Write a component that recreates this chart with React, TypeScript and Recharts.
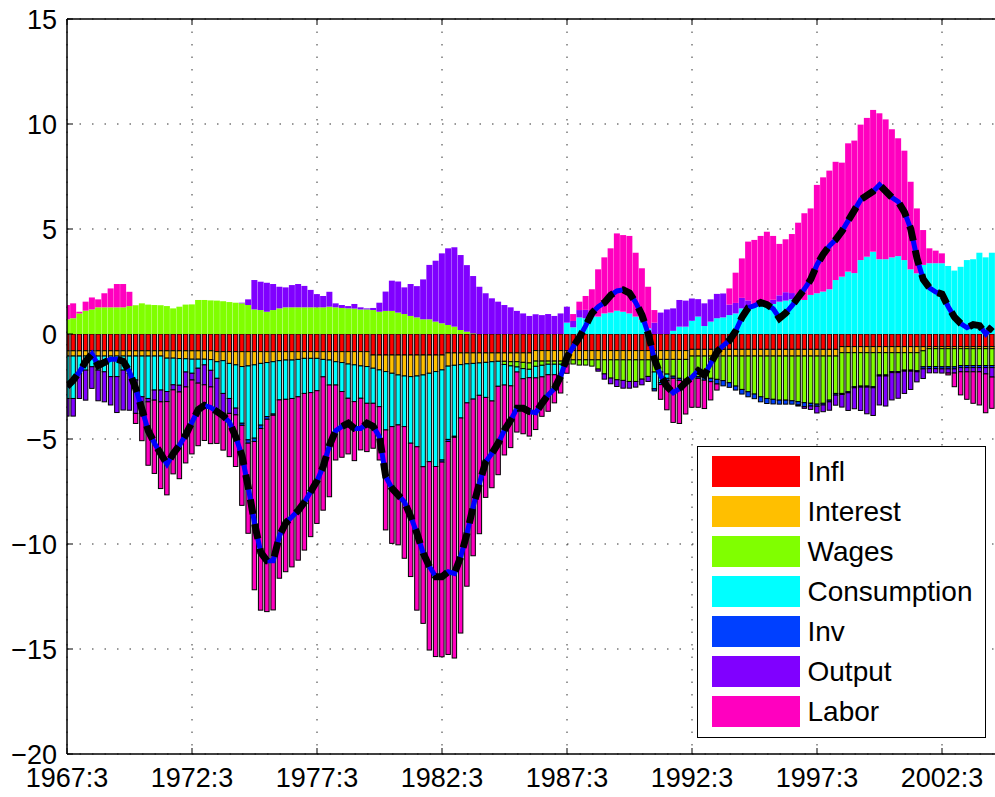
import { Bar, CartesianGrid, ComposedChart, Line, ReferenceLine, XAxis, YAxis } from "recharts";

const FONT = '"Liberation Sans", Arial, Helvetica, sans-serif';
const PLOT_TOP = 19;
const PLOT_LEFT = 67;
const PLOT_BOTTOM = 754;

// quarter index 0 = 1967:3
const xTickIdx = [0, 20, 40, 60, 80, 100, 120, 140];
const xTickLabels = ["1967:3", "1972:3", "1977:3", "1982:3", "1987:3", "1992:3", "1997:3", "2002:3"];
const yTicks = [-20, -15, -10, -5, 0, 5, 10, 15];

const infl = [
  -0.8, -0.8, -0.8, -0.8, -0.8, -0.8, -0.8, -0.8, -0.8, -0.8, -0.8, -0.8,
  -0.8, -0.8, -0.8, -0.8, -0.8, -0.8, -0.8, -0.8, -0.8, -0.8, -0.8, -0.8,
  -0.84, -0.84, -0.84, -0.84, -0.84, -0.84, -0.84, -0.84, -0.84, -0.84, -0.84, -0.84, -0.84,
  -0.84, -0.84, -0.84, -0.84, -0.84, -0.84, -0.84, -0.84, -0.84, -0.84, -0.84, -0.84,
  -1.0, -1.0, -1.0, -1.0, -1.0, -1.0, -1.0, -1.0, -1.0, -1.0, -1.0, -1.0,
  -0.9, -0.9, -0.9, -0.9, -0.9, -0.9, -0.9, -0.9, -0.9, -0.9, -0.9, -0.9, -0.9, -0.9,
  -0.79, -0.79, -0.79, -0.79, -0.79, -0.79, -0.79, -0.79, -0.79, -0.79, -0.79, -0.79, -0.79,
  -0.79, -0.79, -0.79, -0.79, -0.79, -0.79, -0.79, -0.79, -0.79, -0.79, -0.79, -0.79,
  -0.73, -0.73, -0.73, -0.73, -0.73, -0.73, -0.73, -0.73, -0.73, -0.73, -0.73, -0.73,
  -0.73, -0.73, -0.73, -0.73, -0.73, -0.73, -0.73, -0.73, -0.73, -0.73, -0.73, -0.73,
  -0.6, -0.6, -0.6, -0.6, -0.6, -0.6, -0.6, -0.6, -0.6, -0.6, -0.6, -0.6, -0.6,
  -0.6, -0.6, -0.6, -0.6, -0.6, -0.6, -0.6, -0.6, -0.6, -0.6, -0.6, -0.6,
];

const interest = [
  -0.25, -0.25, -0.25, -0.25, -0.25, -0.25, -0.25, -0.25, -0.25, -0.25, -0.25, -0.25,
  -0.25, -0.25, -0.25, -0.25, -0.35, -0.35, -0.37, -0.38, -0.4, -0.4, -0.4, -0.42,
  -0.48, -0.43, -0.56, -0.63, -0.71, -0.68, -0.63, -0.56, -0.52, -0.48, -0.43, -0.4, -0.4,
  -0.37, -0.32, -0.32, -0.32, -0.37, -0.4, -0.48, -0.52, -0.59, -0.63, -0.68, -0.71,
  -0.63, -0.71, -0.79, -0.87, -0.95, -1.0, -1.03, -1.0, -0.95, -0.87, -0.79, -0.71, -0.63,
  -0.59, -0.56, -0.52, -0.5, -0.48, -0.45, -0.42, -0.4, -0.4, -0.42, -0.42, -0.45, -0.48,
  -0.5, -0.5, -0.5, -0.5, -0.5, -0.44, -0.44, -0.44, -0.44, -0.44, -0.44, -0.44, -0.44,
  -0.44, -0.44, -0.44, -0.44, -0.44, -0.44, -0.42, -0.42, -0.42, -0.42, -0.42, -0.42,
  -0.32, -0.32, -0.32, -0.32, -0.32, -0.32, -0.32, -0.32, -0.32, -0.32, -0.32, -0.32,
  -0.32, -0.32, -0.32, -0.32, -0.32, -0.32, -0.32, -0.32, -0.32, -0.32, -0.32, -0.32,
  -0.29, -0.29, -0.29, -0.29, -0.29, -0.29, -0.29, -0.29, -0.29, -0.29, -0.29, -0.29, -0.29,
  -0.2, -0.1, -0.1, -0.1, -0.1, -0.1, -0.1, -0.1, -0.1, -0.1, -0.1, -0.1,
];

const wages = [
  0.7, 0.75, 0.98, 1.11, 1.17, 1.27, 1.27, 1.27, 1.27, 1.27, 1.33, 1.37,
  1.46, 1.4, 1.38, 1.37, 1.33, 1.22, 1.3, 1.4, 1.41, 1.62, 1.62, 1.6,
  1.59, 1.56, 1.52, 1.49, 1.46, 1.38, 1.17, 1.14, 1.06, 1.14, 1.22, 1.27, 1.27,
  1.27, 1.27, 1.27, 1.27, 1.27, 1.3, 1.27, 1.24, 1.22, 1.21, 1.17, 1.17,
  1.14, 1.06, 1.1, 1.1, 1.02, 0.95, 0.86, 0.79, 0.7, 0.7, 0.59, 0.51, 0.43,
  0.35, 0.19, 0.11, 0.03, 0, 0, 0, 0, -0.15, -0.2, -0.25, -0.3, -0.3,
  -0.25, -0.2, -0.15, -0.15, -0.15, -0.2, -0.2, -0.25, -0.25, -0.3, -0.44, -0.67, -0.87,
  -0.95, -0.98, -1.03, -1.03, -0.92, -0.79, -0.6, -0.6, -0.7, -0.8, -0.9, -0.95,
  -0.98, -0.98, -1.02, -1.06, -1.11, -1.17, -1.27, -1.43, -1.59, -1.7, -1.81, -1.94,
  -2.02, -2.06, -2.1, -2.1, -2.13, -2.17, -2.22, -2.25, -2.29, -2.25, -2.1, -1.78,
  -1.94, -1.86, -1.62, -1.59, -1.59, -1.62, -1.06, -1.06, -0.9, -0.9, -0.83, -0.83, -0.86,
  -0.76, -0.85, -0.85, -0.86, -0.86, -0.86, -0.8, -0.8, -0.8, -0.8, -0.8, -0.8,
];

const consumption = [
  -2.02, -2.02, -0.83, -0.67, -0.51, -0.67, -0.75, -0.98, -0.98, -0.67, -0.83, -1.14,
  -1.94, -2.02, -1.62, -1.62, -1.59, -1.27, -1.27, -0.63, -0.67, -0.43, -0.27, -0.51,
  -0.79, -1.56, -1.67, -2.06, -2.7, -3.52, -3.49, -2.94, -2.57, -2.49, -1.87, -1.87, -1.83,
  -1.78, -1.67, -1.63, -1.54, -0.83, -1.19, -1.11, -1.38, -1.63, -1.75, -1.54, -1.75,
  -1.67, -1.75, -2.78, -2.54, -2.38, -2.41, -3.17, -3.37, -4.37, -4.21, -4.52, -4.29, -3.49,
  -3.38, -2.54, -1.86, -1.7, -1.54, -1.67, -1.87, -1.19, -0.98, -0.95, -0.24, -0.48, -0.4,
  -0.55, -0.55, -0.5, -0.5, -0.45, 0.54, 0.32, 0.79, 0.75, 0.83, 0.83, 0.98, 1.02,
  1.11, 1.06, 0.98, 0.83, 0.67, 0.27, -0.8, -0.5, -0.2, 0.15, 0.35, 0.35,
  0.63, 0.83, 0.38, 0.59, 0.75, 0.79, 0.9, 0.98, 1.22, 1.3, 1.33, 1.46,
  1.38, 1.43, 1.54, 1.59, 1.65, 1.65, 1.62, 1.86, 1.94, 2.02, 2.13, 2.57,
  2.73, 2.97, 2.9, 3.52, 3.68, 3.92, 3.56, 3.56, 3.65, 3.71, 3.52, 3.08, 2.89,
  3.29, 3.37, 3.37, 3.37, 3.24, 3.02, 3.2, 3.52, 3.56, 3.87, 3.65, 3.87,
];

const inv = [
  0, 0, 0, 0, 0, 0, 0, 0, 0, 0, 0, 0,
  0, 0, 0, 0, 0, 0, 0, 0, 0, 0, 0, 0,
  0, 0, 0, 0, -0.1, -0.16, -0.16, -0.16, -0.13, -0.06, 0, 0, 0,
  0, 0, 0, 0, 0, 0, 0, 0, 0, 0, 0, 0,
  0, 0, 0, 0, 0, 0, 0, 0, 0, 0, 0, -0.1, -0.1,
  -0.05, 0, 0, 0, 0, 0, 0, 0, 0, 0, 0, 0, 0,
  0, 0, 0, 0, 0, 0, 0, 0, 0, 0, 0, 0, 0,
  0, 0, 0, 0, 0, 0, -0.1, -0.1, -0.1, -0.1, -0.1, -0.1,
  -0.03, -0.08, -0.13, -0.16, -0.22, -0.25, -0.22, -0.19, -0.22, -0.24, -0.22, -0.24,
  -0.24, -0.22, -0.19, -0.19, -0.16, -0.16, -0.19, -0.13, -0.1, -0.08, -0.08, -0.08,
  -0.05, -0.05, -0.05, -0.05, -0.05, -0.05, -0.05, -0.05, -0.05, -0.05, -0.05, -0.05, -0.05,
  -0.1, -0.1, -0.1, -0.1, -0.1, -0.1, -0.1, -0.1, -0.1, -0.1, -0.1, -0.1,
];

const output = [
  -0.84, -0.84, -1.19, -1.43, -1.03, -1.46, -1.43, -1.35, -1.71, -1.9, -1.75, -1.59,
  -0.79, -0.16, -0.48, -0.56, -0.48, -0.24, -0.32, -0.71, -0.32, -0.71, -0.95, -0.79,
  -1.51, -0.95, -0.71, -0.32, 0.03, 0.27, 1.4, 1.35, 1.38, 1.24, 1.03, 0.95, 1.06,
  1.11, 1.02, 0.83, 0.63, 0.54, 0.71, 0.19, 0.14, 0.11, 0.22, 0.1, 0.05,
  0.1, 0.43, 0.92, 1.44, 1.48, 1.27, 1.52, 1.49, 1.9, 2.59, 2.9, 3.33, 3.65,
  3.78, 3.57, 3.17, 2.73, 2.25, 1.94, 1.7, 1.54, 1.38, 1.27, 1.1, 0.98, 0.86,
  0.94, 0.9, 0.95, 0.86, 0.98, 0.76, 0.3, 0.35, 0.4, 0.15, -0.1, -0.25, -0.27,
  -0.32, -0.37, -0.32, -0.27, -0.27, -0.24, 0.54, 1.02, 1.17, 1.07, 1.27, 1.24,
  1.06, 0.83, 1.08, 1.06, 1.16, 1.14, 0.5, 0.5, 0.5, 0.3, 0.1, 0.1,
  0.1, 0.2, 0.3, 0.4, 0.3, -0.05, -0.08, -0.16, -0.32, -0.32, -0.4, -0.48,
  -0.6, -0.84, -1.0, -1.11, -1.27, -1.32, -1.38, -1.43, -1.3, -1.22, -1.06, -0.87, -0.48,
  -0.46, -0.2, -0.2, -0.2, -0.2, -0.2, -0.2, -0.2, -0.2, -0.2, -0.3, -0.45,
];

const labor = [
  0.68, 0.71, 0.08, 0.43, 0.57, 0.38, 0.67, 0.9, 1.11, 1.11, 0.68, -0.48,
  -1.3, -3.02, -3.49, -4.13, -4.44, -4.0, -4.13, -3.62, -3.52, -2.98, -2.65, -2.7,
  -1.59, -1.75, -2.06, -2.46, -3.81, -4.29, -7.06, -8.65, -9.16, -9.27, -8.49, -8.21, -8.02,
  -7.78, -7.46, -6.86, -6.32, -6.35, -5.32, -3.57, -3.13, -2.65, -2.81, -2.46, -2.3,
  -2.14, -2.54, -4.76, -5.56, -5.71, -6.27, -6.35, -7.78, -7.46, -8.97, -9.05, -9.27, -10.14,
  -10.51, -10.24, -8.73, -7.46, -6.59, -4.76, -4.13, -4.21, -3.33, -2.94, -2.86, -2.62, -2.78,
  -2.46, -1.88, -1.74, -1.34, -0.92, -0.44, 0.33, 0.4, 0.66, 1.15, 2.25, 2.67, 3.06,
  3.68, 3.65, 3.69, 3.04, 2.46, 1.98, 0.6, -0.7, -1.4, -2.1, -2.05, -1.55,
  -1.43, -1.38, -1.35, -0.87, -0.29, 0, 0.77, 1.44, 1.88, 2.8, 3.05, 3.11,
  3.39, 3.04, 2.45, 2.52, 2.81, 3.65, 4.13, 4.12, 5.16, 5.44, 5.65, 5.63,
  5.43, 6.11, 6.31, 6.45, 6.61, 6.75, 6.95, 6.66, 6.1, 5.61, 5.21, 4.17, 3.09,
  1.66, 0.71, 0.6, 0.47, -0.09, -0.65, -1.1, -1.31, -1.5, -1.58, -1.85, -1.49,
];

// observed series (line)
const total = [
  -2.5, -2.2, -1.8, -1.3, -0.95, -1.5, -1.35, -1.2, -1.2, -1.3, -1.8, -2.6,
  -3.6, -4.6, -5.2, -5.7, -6.2, -5.7, -5.3, -4.8, -4.2, -3.6, -3.4, -3.5,
  -3.7, -3.9, -4.2, -4.9, -5.8, -7.3, -9.0, -10.4, -10.8, -10.8, -9.6, -9.0, -8.7,
  -8.4, -8.0, -7.5, -7.0, -6.3, -5.3, -4.6, -4.4, -4.25, -4.5, -4.5, -4.25,
  -4.4, -4.9, -6.8, -7.35, -7.67, -8.0, -8.7, -9.5, -10.44, -11.08, -11.56, -11.56, -11.32,
  -11.4, -10.6, -9.5, -8.2, -7.1, -6.08, -5.68, -5.2, -4.57, -4.1, -3.54, -3.54, -3.7,
  -3.75, -3.3, -2.9, -2.6, -2.0, -1.1, -0.6, -0.15, 0.4, 1.0, 1.3, 1.5, 1.85,
  2.05, 2.1, 1.95, 1.5, 0.9, 0.0, -1.2, -2.0, -2.5, -2.8, -2.6, -2.3,
  -2.05, -1.75, -1.95, -1.4, -0.85, -0.55, -0.3, 0.15, 0.8, 1.25, 1.35, 1.5,
  1.4, 1.2, 0.75, 1.0, 1.35, 1.75, 2.15, 2.6, 3.3, 3.8, 4.2, 4.5,
  4.9, 5.4, 5.9, 6.4, 6.6, 6.8, 7.1, 6.8, 6.5, 6.3, 5.8, 5.0, 3.6,
  2.6, 2.2, 2.0, 1.9, 1.3, 0.8, 0.5, 0.3, 0.45, 0.4, 0.0, 0.35,
];

const series = [
  { key: "infl", name: "Infl", color: "#ff0000", values: infl },
  { key: "interest", name: "Interest", color: "#ffbf00", values: interest },
  { key: "wages", name: "Wages", color: "#80ff00", values: wages },
  { key: "consumption", name: "Consumption", color: "#00ffff", values: consumption },
  { key: "inv", name: "Inv", color: "#0040ff", values: inv },
  { key: "output", name: "Output", color: "#8000ff", values: output },
  { key: "labor", name: "Labor", color: "#ff00bf", values: labor },
];

const rows = total.map((t, i) => {
  const row: Record<string, number> = { i, total: t };
  series.forEach((s) => {
    row[s.key] = s.values[i];
  });
  return row;
});

function barShape(key: string, color: string) {
  return (props: any) => {
    const { x, y, width, height, payload } = props;
    const v = payload ? payload[key] : 0;
    if (!v || !width) return <g />;
    const top = Math.min(y, y + height);
    const h = Math.abs(height);
    if (v > 0) {
      return <rect x={x} y={top} width={width} height={h} fill={color} />;
    }
    const inset = width * 0.13;
    return (
      <rect
        x={x + inset}
        y={top}
        width={width - 2 * inset}
        height={h}
        fill={color}
        stroke="#000"
        strokeWidth={1}
      />
    );
  };
}

function XTick(props: any) {
  const { x, payload } = props;
  const label = xTickLabels[xTickIdx.indexOf(payload.value)];
  return (
    <g>
      <line x1={x} x2={x} y1={PLOT_BOTTOM} y2={PLOT_BOTTOM - 6} stroke="#000" />
      <line x1={x} x2={x} y1={PLOT_TOP} y2={PLOT_TOP + 6} stroke="#000" />
      <text x={x} y={787} textAnchor="middle" fontSize={27} fontFamily={FONT} fill="#000">
        {label}
      </text>
    </g>
  );
}

function YTick(props: any) {
  const { y, payload } = props;
  const v = payload.value as number;
  return (
    <g>
      <line x1={PLOT_LEFT} x2={PLOT_LEFT + 6} y1={y} y2={y} stroke="#000" />
      <text x={57} y={y + 9.5} textAnchor="end" fontSize={27} fontFamily={FONT} fill="#000">
        {v < 0 ? `\u2212${Math.abs(v)}` : `${v}`}
      </text>
    </g>
  );
}

function LegendBox() {
  return (
    <div
      style={{
        position: "absolute",
        left: 697,
        top: 446,
        width: 289,
        height: 292,
        boxSizing: "border-box",
        border: "1.5px solid #000",
        background: "#fff",
        fontFamily: FONT,
      }}
    >
      {series.map((s, k) => (
        <div key={s.key} style={{ position: "absolute", left: 13.5, top: 8.5 + k * 40, height: 31, display: "flex", alignItems: "center" }}>
          <div style={{ width: 88, height: 31, background: s.color }} />
          <span style={{ marginLeft: 8, fontSize: 28, lineHeight: "31px", color: "#000", whiteSpace: "nowrap" }}>{s.name}</span>
        </div>
      ))}
    </div>
  );
}

export default function App() {
  return (
    <div
      style={{
        position: "absolute",
        left: 0,
        top: 0,
        width: 995,
        height: 797,
        overflow: "hidden",
        background: "#fff",
      }}
    >
      <ComposedChart
        width={1002}
        height={797}
        data={rows}
        stackOffset="sign"
        barCategoryGap={0}
        barGap={0}
        margin={{ top: PLOT_TOP, right: 5, bottom: 0, left: 0 }}
      >
        <CartesianGrid stroke="#333" strokeDasharray="1.5 11" />
        <XAxis
          type="number"
          dataKey="i"
          domain={[0, 148.8]}
          allowDataOverflow
          ticks={xTickIdx}
          interval={0}
          height={43}
          tickSize={0}
          tickLine={false}
          tick={(p: any) => <XTick {...p} />}
          axisLine={{ stroke: "#000", strokeWidth: 1.5 }}
        />
        <YAxis
          type="number"
          domain={[-20, 15]}
          ticks={yTicks}
          allowDataOverflow
          width={PLOT_LEFT}
          tickSize={0}
          tickLine={false}
          tick={(p: any) => <YTick {...p} />}
          axisLine={{ stroke: "#000", strokeWidth: 1.5 }}
        />
        <ReferenceLine y={15} stroke="#000" strokeWidth={1.5} />
        {series.map((s) => (
          <Bar
            key={s.key}
            dataKey={s.key}
            name={s.name}
            stackId="contrib"
            fill={s.color}
            isAnimationActive={false}
            shape={barShape(s.key, s.color)}
          />
        ))}
        <Line
          dataKey="total"
          type="linear"
          stroke="#0000ff"
          strokeWidth={5}
          dot={false}
          activeDot={false}
          isAnimationActive={false}
        />
        <Line
          dataKey="total"
          type="linear"
          stroke="#000"
          strokeWidth={7}
          strokeDasharray="15 10"
          dot={false}
          activeDot={false}
          isAnimationActive={false}
        />
      </ComposedChart>
      <LegendBox />
    </div>
  );
}
